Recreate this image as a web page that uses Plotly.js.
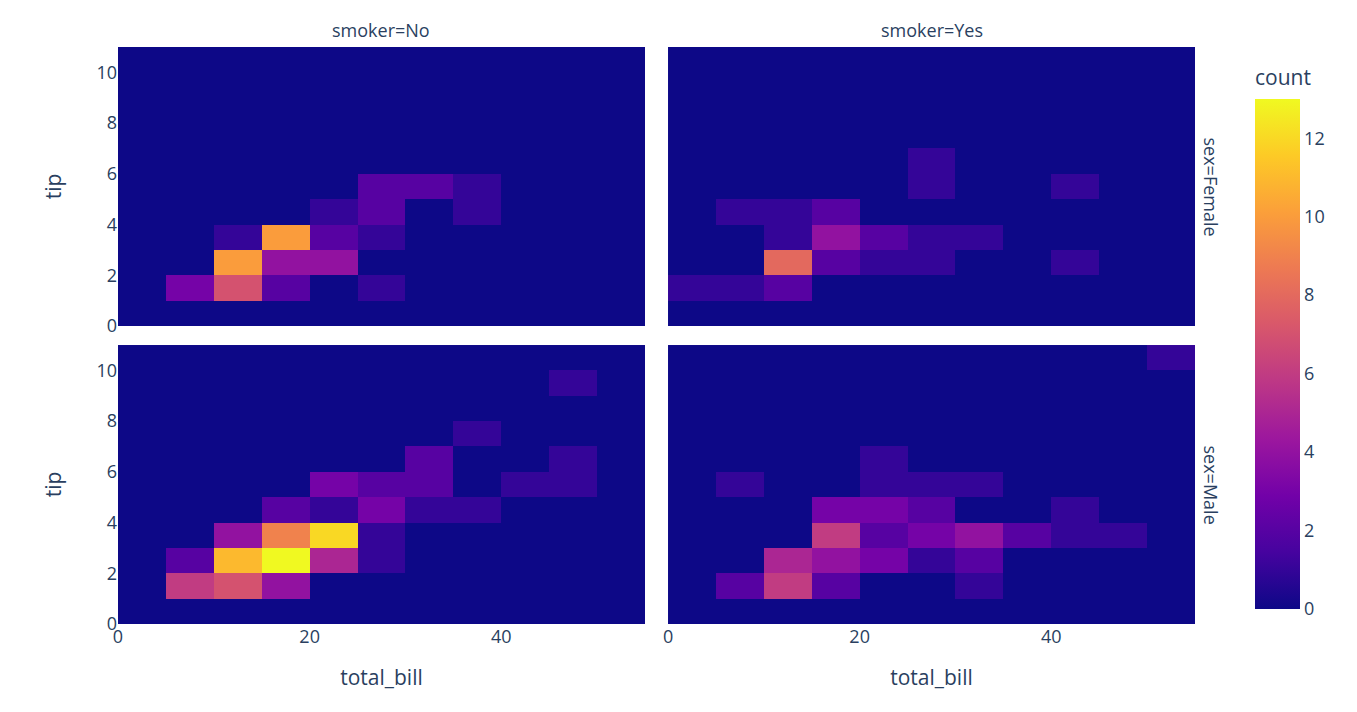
<!DOCTYPE html>
<html>
<head>
<meta charset="utf-8">
<script src="https://cdn.plot.ly/plotly-3.0.1.min.js"></script>
<style>
  html, body { margin: 0; padding: 0; background: #fff; }
  #chart { width: 1357px; height: 712px; }
</style>
</head>
<body>
<div id="chart"></div>
<script>
// bin centres: total_bill bins of 5, tip bins of 1
const billBins = [2.5, 7.5, 12.5, 17.5, 22.5, 27.5, 32.5, 37.5, 42.5, 47.5, 52.5];
const tipBins = [0.5, 1.5, 2.5, 3.5, 4.5, 5.5, 6.5, 7.5, 8.5, 9.5, 10.5];

// counts, one row per tip bin (bottom to top), one column per bill bin
const femaleNo = [
  [0, 0, 0, 0, 0, 0, 0, 0, 0, 0, 0],
  [0, 3, 7, 2, 0, 1, 0, 0, 0, 0, 0],
  [0, 0, 10, 4, 4, 0, 0, 0, 0, 0, 0],
  [0, 0, 1, 10, 2, 1, 0, 0, 0, 0, 0],
  [0, 0, 0, 0, 1, 2, 0, 1, 0, 0, 0],
  [0, 0, 0, 0, 0, 2, 2, 1, 0, 0, 0],
  [0, 0, 0, 0, 0, 0, 0, 0, 0, 0, 0],
  [0, 0, 0, 0, 0, 0, 0, 0, 0, 0, 0],
  [0, 0, 0, 0, 0, 0, 0, 0, 0, 0, 0],
  [0, 0, 0, 0, 0, 0, 0, 0, 0, 0, 0],
  [0, 0, 0, 0, 0, 0, 0, 0, 0, 0, 0]
];
const femaleYes = [
  [0, 0, 0, 0, 0, 0, 0, 0, 0, 0, 0],
  [1, 1, 2, 0, 0, 0, 0, 0, 0, 0, 0],
  [0, 0, 8, 2, 1, 1, 0, 0, 1, 0, 0],
  [0, 0, 1, 4, 2, 1, 1, 0, 0, 0, 0],
  [0, 1, 1, 2, 0, 0, 0, 0, 0, 0, 0],
  [0, 0, 0, 0, 0, 1, 0, 0, 1, 0, 0],
  [0, 0, 0, 0, 0, 1, 0, 0, 0, 0, 0],
  [0, 0, 0, 0, 0, 0, 0, 0, 0, 0, 0],
  [0, 0, 0, 0, 0, 0, 0, 0, 0, 0, 0],
  [0, 0, 0, 0, 0, 0, 0, 0, 0, 0, 0],
  [0, 0, 0, 0, 0, 0, 0, 0, 0, 0, 0]
];
const maleNo = [
  [0, 0, 0, 0, 0, 0, 0, 0, 0, 0, 0],
  [0, 6, 7, 4, 0, 0, 0, 0, 0, 0, 0],
  [0, 2, 11, 13, 5, 1, 0, 0, 0, 0, 0],
  [0, 0, 4, 9, 12, 1, 0, 0, 0, 0, 0],
  [0, 0, 0, 2, 1, 3, 1, 1, 0, 0, 0],
  [0, 0, 0, 0, 3, 2, 2, 0, 1, 1, 0],
  [0, 0, 0, 0, 0, 0, 2, 0, 0, 1, 0],
  [0, 0, 0, 0, 0, 0, 0, 1, 0, 0, 0],
  [0, 0, 0, 0, 0, 0, 0, 0, 0, 0, 0],
  [0, 0, 0, 0, 0, 0, 0, 0, 0, 1, 0],
  [0, 0, 0, 0, 0, 0, 0, 0, 0, 0, 0]
];
const maleYes = [
  [0, 0, 0, 0, 0, 0, 0, 0, 0, 0, 0],
  [0, 2, 6, 2, 0, 0, 1, 0, 0, 0, 0],
  [0, 0, 5, 4, 3, 1, 2, 0, 0, 0, 0],
  [0, 0, 0, 6, 2, 3, 4, 2, 1, 1, 0],
  [0, 0, 0, 3, 3, 2, 0, 0, 1, 0, 0],
  [0, 1, 0, 0, 1, 1, 1, 0, 0, 0, 0],
  [0, 0, 0, 0, 1, 0, 0, 0, 0, 0, 0],
  [0, 0, 0, 0, 0, 0, 0, 0, 0, 0, 0],
  [0, 0, 0, 0, 0, 0, 0, 0, 0, 0, 0],
  [0, 0, 0, 0, 0, 0, 0, 0, 0, 0, 0],
  [0, 0, 0, 0, 0, 0, 0, 0, 0, 0, 1]
];

const smokerLabels = ['smoker=No', 'smoker=Yes'];
const sexLabels = ['sex=Female', 'sex=Male'];

const plasma = ['#0d0887', '#46039f', '#7201a8', '#9c179e', '#bd3786',
                '#d8576b', '#ed7953', '#fb9f3a', '#fdca26', '#f0f921'];
const colorscale = plasma.map((c, i) => [i / (plasma.length - 1), c]);

const ink = '#2a3f5f';

function heat(z, xa, ya) {
  return {
    type: 'heatmap', x: billBins, y: tipBins, z: z,
    xaxis: xa, yaxis: ya, coloraxis: 'coloraxis',
    hovertemplate: 'total_bill=%{x}<br>tip=%{y}<br>count=%{z}<extra></extra>'
  };
}

const traces = [
  heat(maleNo, 'x', 'y'),
  heat(maleYes, 'x2', 'y2'),
  heat(femaleNo, 'x3', 'y3'),
  heat(femaleYes, 'x4', 'y4')
];

const colL = [0, 0.4893], colR = [0.5107, 1];
const rowB = [0, 0.4835], rowT = [0.5165, 1];

const xBase = { range: [0, 55], dtick: 20, showgrid: false, zeroline: false,
  ticks: '', tickfont: { size: 18, color: ink } };
const yBase = { range: [0, 11], dtick: 2, showgrid: false, zeroline: false,
  ticks: '', tickfont: { size: 18, color: ink } };
const xTitle = { text: 'total_bill', standoff: 23, font: { size: 21, color: ink } };
const yTitle = { text: 'tip', standoff: 29, font: { size: 21, color: ink } };

const layout = {
  width: 1357, height: 712,
  margin: { l: 118, r: 162, t: 47, b: 88 },
  paper_bgcolor: '#fff', plot_bgcolor: '#E5ECF6',
  font: { family: '"Open Sans", Verdana, Arial, sans-serif', size: 18, color: ink },
  showlegend: false,
  xaxis: { ...xBase, domain: colL, anchor: 'y', title: xTitle },
  xaxis2: { ...xBase, domain: colR, anchor: 'y2', matches: 'x', title: xTitle },
  xaxis3: { ...xBase, domain: colL, anchor: 'y3', matches: 'x', showticklabels: false },
  xaxis4: { ...xBase, domain: colR, anchor: 'y4', matches: 'x', showticklabels: false },
  yaxis: { ...yBase, domain: rowB, anchor: 'x', title: yTitle },
  yaxis2: { ...yBase, domain: rowB, anchor: 'x2', matches: 'y', showticklabels: false },
  yaxis3: { ...yBase, domain: rowT, anchor: 'x3', matches: 'y', title: yTitle },
  yaxis4: { ...yBase, domain: rowT, anchor: 'x4', matches: 'y', showticklabels: false },
  coloraxis: {
    colorscale: colorscale,
    colorbar: {
      title: { text: 'count', font: { size: 21, color: ink } },
      thickness: 45, len: 0.993, y: 0, yanchor: 'bottom',
      x: 1.0418, xanchor: 'left', xpad: 15, ypad: 15,
      outlinewidth: 0, ticks: '', dtick: 2,
      tickfont: { size: 18, color: ink }
    }
  },
  annotations: [
    { text: smokerLabels[0], x: (colL[0] + colL[1]) / 2, y: 1, yshift: 3 },
    { text: smokerLabels[1], x: (colR[0] + colR[1]) / 2, y: 1, yshift: 3 },
    { text: sexLabels[0], x: 1, y: (rowT[0] + rowT[1]) / 2, textangle: 90, xanchor: 'left', yanchor: 'middle', xshift: 2 },
    { text: sexLabels[1], x: 1, y: (rowB[0] + rowB[1]) / 2, textangle: 90, xanchor: 'left', yanchor: 'middle', xshift: 2 }
  ].map(a => ({ xref: 'paper', yref: 'paper', showarrow: false,
                xanchor: 'center', yanchor: 'bottom',
                font: { size: 18, color: ink }, ...a }))
};

Plotly.newPlot('chart', traces, layout, { displayModeBar: false, staticPlot: true });
</script>
</body>
</html>
